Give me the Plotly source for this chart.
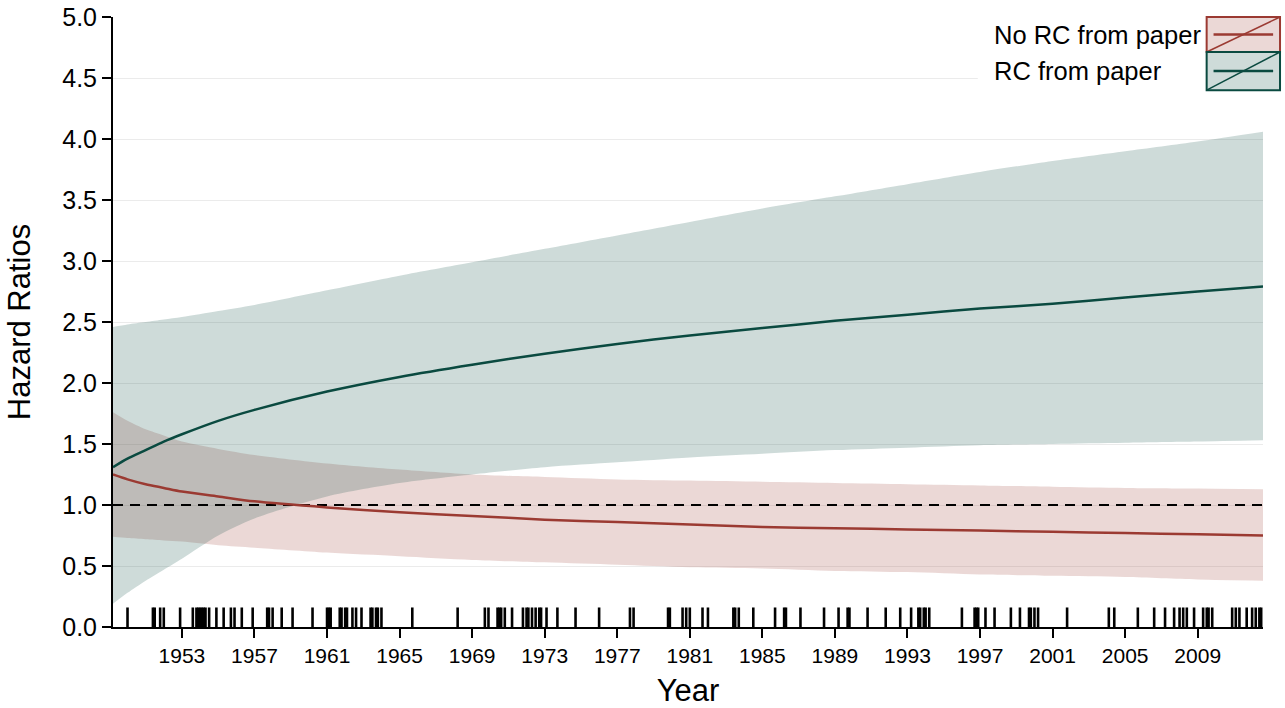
import plotly.graph_objects as go

# ---- data ----
years = [1949.2, 1950, 1951, 1952, 1953, 1955, 1957, 1961, 1965, 1969, 1973,
         1977, 1981, 1985, 1989, 1993, 1997, 2001, 2005, 2009, 2012.6]

rc_mean = [1.31, 1.38, 1.45, 1.52, 1.58, 1.69, 1.78, 1.93, 2.05, 2.15, 2.24,
           2.32, 2.39, 2.45, 2.51, 2.56, 2.61, 2.65, 2.70, 2.75, 2.79]
rc_upper = [2.46, 2.48, 2.50, 2.52, 2.54, 2.59, 2.64, 2.76, 2.88, 2.99, 3.10,
            3.21, 3.32, 3.43, 3.53, 3.63, 3.73, 3.82, 3.90, 3.98, 4.06]
rc_lower = [0.19, 0.28, 0.38, 0.47, 0.56, 0.75, 0.89, 1.07, 1.18, 1.25, 1.31,
            1.35, 1.39, 1.42, 1.45, 1.47, 1.49, 1.50, 1.51, 1.52, 1.53]

norc_mean = [1.25, 1.21, 1.17, 1.14, 1.11, 1.07, 1.03, 0.98, 0.94, 0.91, 0.88,
             0.86, 0.84, 0.82, 0.81, 0.80, 0.79, 0.78, 0.77, 0.76, 0.75]
norc_upper = [1.76, 1.69, 1.62, 1.57, 1.52, 1.46, 1.41, 1.34, 1.29, 1.25, 1.23,
              1.21, 1.20, 1.19, 1.18, 1.17, 1.16, 1.15, 1.14, 1.135, 1.13]
norc_lower = [0.74, 0.73, 0.72, 0.71, 0.70, 0.67, 0.65, 0.61, 0.58, 0.55, 0.53,
              0.51, 0.49, 0.48, 0.46, 0.45, 0.43, 0.42, 0.41, 0.39, 0.38]

rug_years = [1950.0, 1951.4, 1951.5, 1951.8, 1952.0, 1952.9, 1953.6, 1953.8, 1953.9,
             1954.0, 1954.1, 1954.2, 1954.3, 1954.5, 1954.9, 1955.3, 1955.7, 1955.9,
             1956.3, 1956.9, 1957.7, 1957.8, 1958.0, 1958.5, 1959.1, 1960.2, 1961.0,
             1961.1, 1961.2, 1961.7, 1961.8, 1962.0, 1962.1, 1962.4, 1962.6, 1962.9,
             1963.4, 1963.5, 1963.7, 1963.8, 1964.0, 1965.7, 1968.2, 1969.7, 1969.9,
             1970.4, 1970.5, 1970.6, 1970.8, 1971.2, 1971.8, 1972.0, 1972.1, 1972.3,
             1972.5, 1972.7, 1972.8, 1973.1, 1973.7, 1974.7, 1976.0, 1977.7, 1977.9,
             1979.8, 1979.9, 1980.6, 1980.8, 1981.0, 1981.7, 1982.0, 1983.4, 1983.5,
             1983.7, 1984.5, 1985.7, 1986.2, 1986.3, 1987.1, 1988.4, 1989.2, 1989.7,
             1989.8, 1990.8, 1991.8, 1992.6, 1993.2, 1993.6, 1993.7, 1993.9, 1994.0,
             1994.2, 1996.0, 1996.7, 1996.8, 1996.9, 1997.3, 1997.8, 1998.7, 1999.2,
             1999.7, 1999.8, 2000.0, 2000.2, 2001.8, 2004.1, 2004.4, 2005.7, 2006.6,
             2007.2, 2007.7, 2008.0, 2008.2, 2008.4, 2008.8, 2009.3, 2009.5, 2009.6,
             2009.8, 2010.9, 2011.1, 2011.3, 2011.7, 2012.0, 2012.2, 2012.4, 2012.5]
rug_height = 0.16

x_ticks = list(range(1953, 2010, 4))
y_ticks = [0, 0.5, 1, 1.5, 2, 2.5, 3, 3.5, 4, 4.5, 5]
x_range = [1949.2, 2012.6]
ref_hr = 1.0

series_names = ["No RC from paper", "RC from paper"]
red = "#9B3A32"
green = "#0A4A40"
red_fill = "rgba(155,58,50,0.2)"
green_fill = "rgba(10,74,64,0.2)"

FONT = "Liberation Sans, Arial, sans-serif"
SPL = dict(shape="spline", smoothing=0.8)

fig = go.Figure()

def band(lo, hi, fill):
    fig.add_trace(go.Scatter(x=years, y=lo, mode="lines", line=dict(width=0, **SPL),
                             hoverinfo="skip", showlegend=False))
    fig.add_trace(go.Scatter(x=years, y=hi, mode="lines", line=dict(width=0, **SPL),
                             fill="tonexty", fillcolor=fill, hoverinfo="skip", showlegend=False))

band(norc_lower, norc_upper, red_fill)
band(rc_lower, rc_upper, green_fill)

# reference line
fig.add_trace(go.Scatter(x=x_range, y=[ref_hr, ref_hr], mode="lines",
                         line=dict(color="black", width=2, dash="10px,7px"),
                         hoverinfo="skip", showlegend=False))

fig.add_trace(go.Scatter(x=years, y=norc_mean, mode="lines",
                         line=dict(color=red, width=2.5, **SPL),
                         name=series_names[0], showlegend=False))
fig.add_trace(go.Scatter(x=years, y=rc_mean, mode="lines",
                         line=dict(color=green, width=2.5, **SPL),
                         name=series_names[1], showlegend=False))

# rug
rx, ry = [], []
for r in rug_years:
    rx += [r, r, None]
    ry += [0, rug_height, None]
fig.add_trace(go.Scatter(x=rx, y=ry, mode="lines", line=dict(color="black", width=2.6),
                         hoverinfo="skip", showlegend=False))

# ---- custom legend (paper coordinates) ----
shapes = []
annotations = []
shapes.append(dict(type="rect", xref="paper", yref="paper", x0=0.752, x1=1.03,
                   y0=0.872, y1=1.03, fillcolor="white", line=dict(width=0), layer="above"))
box_x0, box_x1 = 0.951, 1.0148
rows = [(0.9426, 1.0, red, red_fill, series_names[0]),
        (0.880, 0.9426, green, green_fill, series_names[1])]
for y0, y1, col, fcol, name in rows:
    shapes.append(dict(type="rect", xref="paper", yref="paper", x0=box_x0, x1=box_x1,
                       y0=y0, y1=y1, fillcolor=fcol, line=dict(color=col, width=2), layer="above"))
    shapes.append(dict(type="line", xref="paper", yref="paper", x0=box_x0, x1=box_x1,
                       y0=y0, y1=y1, line=dict(color=col, width=1.5), layer="above"))
    ym = (y0 + y1) / 2
    shapes.append(dict(type="line", xref="paper", yref="paper", x0=box_x0 + 0.006,
                       x1=box_x1 - 0.006, y0=ym, y1=ym, line=dict(color=col, width=2.5),
                       layer="above"))
    annotations.append(dict(xref="paper", yref="paper", x=0.7645, y=ym, text=name,
                            showarrow=False, xanchor="left", yanchor="middle",
                            font=dict(family=FONT, size=25.5, color="black")))

fig.update_layout(
    width=1285, height=708,
    margin=dict(l=113, r=22, t=17, b=81, autoexpand=False),
    paper_bgcolor="white", plot_bgcolor="white",
    font=dict(family=FONT, color="black"),
    shapes=shapes, annotations=annotations,
    showlegend=False,
)
fig.update_xaxes(range=x_range, tickvals=x_ticks, ticks="outside", ticklen=9, tickwidth=2,
                 tickcolor="black", showline=True, linecolor="black", linewidth=2,
                 showgrid=False, zeroline=False, automargin=False,
                 tickfont=dict(family=FONT, size=21),
                 title=dict(text="Year", font=dict(family=FONT, size=31), standoff=15))
fig.update_yaxes(range=[0, 5], tickvals=y_ticks, tickformat=".1f", ticks="outside",
                 ticklen=9, tickwidth=2, tickcolor="black", showline=True, linecolor="black",
                 linewidth=2, showgrid=True, gridcolor="#EBEBEB", gridwidth=1, zeroline=False,
                 automargin=False,
                 tickfont=dict(family=FONT, size=25),
                 title=dict(text="Hazard Ratios", font=dict(family=FONT, size=31), standoff=22))

fig.write_html("out.html", config={"displayModeBar": False},
               post_script="document.body.style.margin='0';")
